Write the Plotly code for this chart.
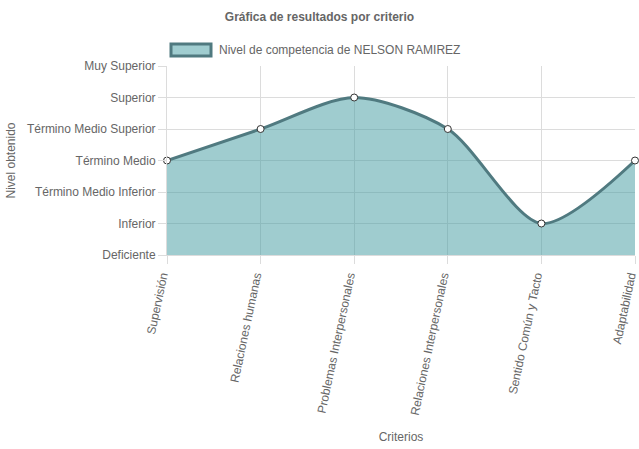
import plotly.graph_objects as go

criterios = ["Supervisión", "Relaciones humanas", "Problemas Interpersonales",
             "Relaciones Interpersonales", "Sentido Común y Tacto", "Adaptabilidad"]
niveles = ["Deficiente", "Inferior", "Término Medio Inferior", "Término Medio",
           "Término Medio Superior", "Superior", "Muy Superior"]
valores = [3, 4, 5, 4, 1, 3]
serie = "Nivel de competencia de NELSON RAMIREZ"

FILL = "rgba(64,154,160,0.5)"
LINE = "#507a80"
FONT = "Liberation Sans, Arial, sans-serif"

fig = go.Figure()
fig.add_trace(go.Scatter(
    x=list(range(len(criterios))), y=valores, mode="lines+markers",
    line=dict(color=LINE, width=3, shape="spline", smoothing=0.8),
    fill="tozeroy", fillcolor=FILL,
    marker=dict(size=7, color="white", line=dict(color="#333", width=1)),
    cliponaxis=False, showlegend=False, name=serie,
))

grid = "#dcdcdc"
fig.update_layout(
    width=639, height=449,
    margin=dict(l=167, r=4, t=66, b=194),
    paper_bgcolor="white", plot_bgcolor="white",
    font=dict(family=FONT, size=12, color="#666"),
    title=dict(text="<b>Gráfica de resultados por criterio</b>", x=0.5, xanchor="center",
               y=1 - 17 / 449, yanchor="middle", font=dict(size=12, color="#666")),
    xaxis=dict(
        tickmode="array", tickvals=list(range(len(criterios))), ticktext=criterios,
        range=[0, len(criterios) - 1], tickangle=-78, ticklabeloverflow="allow",
        ticklabelshift=-5,
        showgrid=True, gridcolor=grid, gridwidth=1,
        ticks="outside", ticklen=8, tickcolor=grid,
        showline=True, linecolor=grid, zeroline=False, automargin=False,
        title=dict(text="Criterios", standoff=17, font=dict(size=12, color="#666")),
    ),
    yaxis=dict(
        tickmode="array", tickvals=list(range(len(niveles))), ticktext=niveles,
        range=[0, len(niveles) - 1],
        showgrid=True, gridcolor=grid, gridwidth=1,
        ticks="outside", ticklen=8, tickcolor=grid,
        showline=True, linecolor=grid, zeroline=False, automargin=False,
        title=dict(text="Nivel obtenido", standoff=8, font=dict(size=12, color="#666")),
    ),
)

# legend drawn as box + text
fig.add_shape(type="rect", xref="paper", yref="paper",
              x0=(171 - 167) / 468, x1=(211 - 167) / 468,
              y0=(255 - 56) / 189, y1=(255 - 44) / 189,
              fillcolor="rgb(160,205,208)", line=dict(color=LINE, width=3))
fig.add_annotation(xref="paper", yref="paper", x=(217 - 167) / 468, y=(255 - 50) / 189,
                   text=serie, showarrow=False, xanchor="left", yanchor="middle",
                   font=dict(size=12, color="#666"))

fig.write_html("out.html", config={"displayModeBar": False})
with open("out.html", encoding="utf-8") as f:
    html = f.read()
html = html.replace("<head>", "<head><style>html,body{margin:0;padding:0;overflow:hidden}</style>", 1)
with open("out.html", "w", encoding="utf-8") as f:
    f.write(html)
